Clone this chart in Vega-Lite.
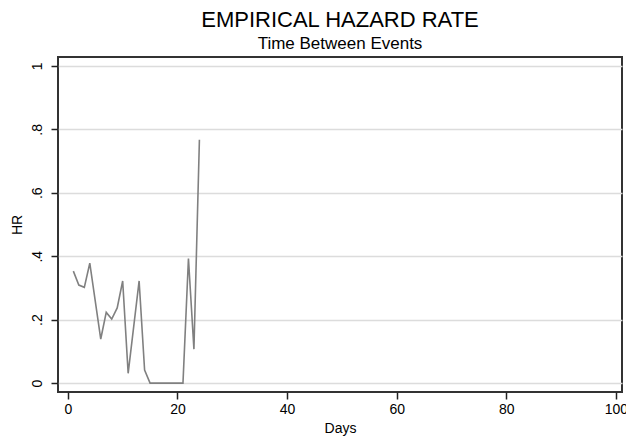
{
  "$schema": "https://vega.github.io/schema/vega-lite/v6.json",
  "width": 564,
  "height": 335,
  "autosize": {"type": "none"},
  "padding": {"left": 58, "top": 57, "right": 4, "bottom": 46},
  "background": "white",
  "title": {
    "text": "EMPIRICAL HAZARD RATE",
    "subtitle": "Time Between Events",
    "anchor": "middle",
    "font": "Liberation Sans",
    "fontSize": 22,
    "fontWeight": "normal",
    "color": "#000000",
    "subtitleFont": "Liberation Sans",
    "subtitleFontSize": 17,
    "subtitleColor": "#000000",
    "subtitlePadding": 4,
    "offset": 4
  },
  "data": {
    "values": [
      {"day": 1, "hr": 0.353},
      {"day": 2, "hr": 0.309},
      {"day": 3, "hr": 0.302},
      {"day": 4, "hr": 0.378},
      {"day": 6, "hr": 0.139},
      {"day": 7, "hr": 0.223},
      {"day": 8, "hr": 0.202},
      {"day": 9, "hr": 0.237},
      {"day": 10, "hr": 0.322},
      {"day": 11, "hr": 0.031},
      {"day": 13, "hr": 0.322},
      {"day": 14, "hr": 0.041},
      {"day": 15, "hr": 0},
      {"day": 21, "hr": 0},
      {"day": 22, "hr": 0.393},
      {"day": 23, "hr": 0.107},
      {"day": 24, "hr": 0.767}
    ]
  },
  "mark": {"type": "line", "color": "#808080", "strokeWidth": 1.6, "clip": true},
  "encoding": {
    "x": {
      "field": "day",
      "type": "quantitative",
      "scale": {"domain": [-1.8, 101.1], "nice": false, "zero": false},
      "axis": {
        "title": "Days",
        "values": [0, 20, 40, 60, 80, 100],
        "grid": false,
        "domain": false,
        "tickSize": 7,
        "tickWidth": 1.5,
        "tickColor": "#222222",
        "labelFont": "Liberation Sans",
        "labelFontSize": 14,
        "labelColor": "#000000",
        "labelPadding": 3,
        "labelFlush": false,
        "labelOverlap": false,
        "titleFont": "Liberation Sans",
        "titleFontSize": 14,
        "titleFontWeight": "normal",
        "titleColor": "#000000",
        "titlePadding": 5
      }
    },
    "y": {
      "field": "hr",
      "type": "quantitative",
      "scale": {"domain": [-0.028, 1.028], "nice": false, "zero": false},
      "axis": {
        "title": "HR",
        "values": [0, 0.2, 0.4, 0.6, 0.8, 1],
        "labelExpr": "datum.value == 0 ? '0' : datum.value == 1 ? '1' : replace(format(datum.value, '.1f'), '0.', '.')",
        "grid": true,
        "gridColor": "#dcdcdc",
        "gridWidth": 1.5,
        "domain": false,
        "tickSize": 7,
        "tickWidth": 1.5,
        "tickColor": "#222222",
        "labelAngle": -90,
        "labelAlign": "center",
        "labelBaseline": "alphabetic",
        "labelFont": "Liberation Sans",
        "labelFontSize": 14,
        "labelColor": "#000000",
        "labelPadding": 10,
        "labelFlush": false,
        "labelOverlap": false,
        "titleFont": "Liberation Sans",
        "titleFontSize": 14,
        "titleFontWeight": "normal",
        "titleColor": "#000000",
        "titlePadding": 6
      }
    }
  },
  "config": {
    "view": {"stroke": "#333333", "strokeWidth": 2}
  }
}
